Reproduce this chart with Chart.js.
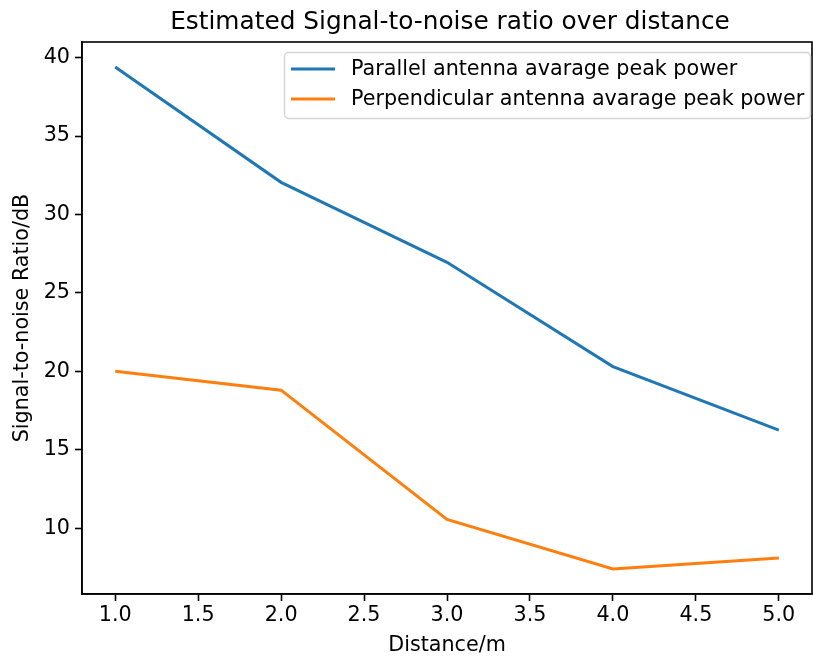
<!DOCTYPE html>
<html>
<head>
<meta charset="utf-8">
<script src="https://cdn.jsdelivr.net/npm/chart.js@4"></script>
<style>
  html, body { margin: 0; padding: 0; background: #fff; }
  #wrap { width: 813px; height: 658px; }
</style>
</head>
<body>
<div id="wrap"><canvas id="myChart" width="813" height="658"></canvas></div>
<script>
const distances = [1.0, 2.0, 3.0, 4.0, 5.0];
const parallelPower = [39.4, 32.05, 26.95, 20.3, 16.25];
const perpendicularPower = [20.0, 18.8, 10.55, 7.4, 8.1];
const xTicks = [1.0, 1.5, 2.0, 2.5, 3.0, 3.5, 4.0, 4.5, 5.0];
const yTicks = [10, 15, 20, 25, 30, 35, 40];

const font = "'DejaVu Sans', sans-serif";
const fs = 20.7;

// box round the plot, title over the axes and legend inside it
const framePlugin = {
  id: "frame",
  afterDraw(chart) {
    const ctx = chart.ctx;
    const a = chart.chartArea;
    ctx.save();
    ctx.strokeStyle = "#000";
    ctx.lineWidth = 1.6;
    ctx.strokeRect(a.left, a.top, a.right - a.left, a.bottom - a.top);

    ctx.fillStyle = "#000";
    ctx.font = "24.8px " + font;
    ctx.textAlign = "center";
    ctx.textBaseline = "alphabetic";
    ctx.fillText("Estimated Signal-to-noise ratio over distance", (a.left + a.right) / 2 + 3, 29);

    // legend
    const bx = 284, by = 52, bw = 526, bh = 66;
    ctx.fillStyle = "rgba(255,255,255,0.8)";
    ctx.strokeStyle = "#d4d4d4";
    ctx.lineWidth = 1.4;
    ctx.beginPath();
    ctx.roundRect(bx + 0.5, by + 0.5, bw, bh, 4);
    ctx.fill();
    ctx.stroke();
    ctx.font = fs + "px " + font;
    ctx.textAlign = "left";
    ctx.textBaseline = "middle";
    chart.data.datasets.forEach((ds, i) => {
      const y = by + 17 + i * 30;
      ctx.strokeStyle = ds.borderColor;
      ctx.lineWidth = 3;
      ctx.beginPath();
      ctx.moveTo(bx + 7, y);
      ctx.lineTo(bx + 51, y);
      ctx.stroke();
      ctx.fillStyle = "#000";
      ctx.fillText(ds.label, bx + 67, y + 1);
    });
    ctx.restore();
  },
};

const ctx = document.getElementById("myChart").getContext("2d");
const myChart = new Chart(ctx, {
  type: "line",
  data: {
    datasets: [
      {
        label: "Parallel antenna avarage peak power",
        data: distances.map((d, i) => ({ x: d, y: parallelPower[i] })),
        borderColor: "#1f77b4",
        borderWidth: 3,
        pointRadius: 0,
        tension: 0,
      },
      {
        label: "Perpendicular antenna avarage peak power",
        data: distances.map((d, i) => ({ x: d, y: perpendicularPower[i] })),
        borderColor: "#ff7f0e",
        borderWidth: 3,
        pointRadius: 0,
        tension: 0,
      },
    ],
  },
  options: {
    responsive: false,
    animation: false,
    layout: { padding: { top: 42, right: 1, left: 0, bottom: 0 } },
    plugins: {
      legend: { display: false },
      title: { display: false },
      tooltip: { enabled: false },
    },
    scales: {
      x: {
        type: "linear",
        min: 0.8,
        max: 5.2,
        afterBuildTicks: (axis) => {
          axis.ticks = xTicks.map((v) => ({ value: v }));
        },
        afterFit: (axis) => {
          axis.height = 64;
        },
        grid: { drawOnChartArea: false, color: "#000", tickLength: 7, tickWidth: 1.6 },
        border: { color: "#000", width: 1.6 },
        ticks: {
          color: "#000",
          font: { family: font, size: fs },
          padding: 2,
          maxRotation: 0,
          callback: (v) => v.toFixed(1),
        },
        title: {
          display: true,
          text: "Distance/m",
          color: "#000",
          font: { family: font, size: fs },
          padding: { top: 0, bottom: 0 },
        },
      },
      y: {
        min: 5.8,
        max: 41.0,
        afterBuildTicks: (axis) => {
          axis.ticks = yTicks.map((v) => ({ value: v }));
        },
        afterFit: (axis) => {
          axis.width = 82;
        },
        grid: { drawOnChartArea: false, color: "#000", tickLength: 7, tickWidth: 1.6 },
        border: { color: "#000", width: 1.6 },
        ticks: {
          color: "#000",
          font: { family: font, size: fs },
          padding: 5,
        },
        title: {
          display: true,
          text: "Signal-to-noise Ratio/dB",
          color: "#000",
          font: { family: font, size: fs },
          padding: { top: 10, bottom: 0 },
        },
      },
    },
  },
  plugins: [framePlugin],
});
</script>
</body>
</html>
